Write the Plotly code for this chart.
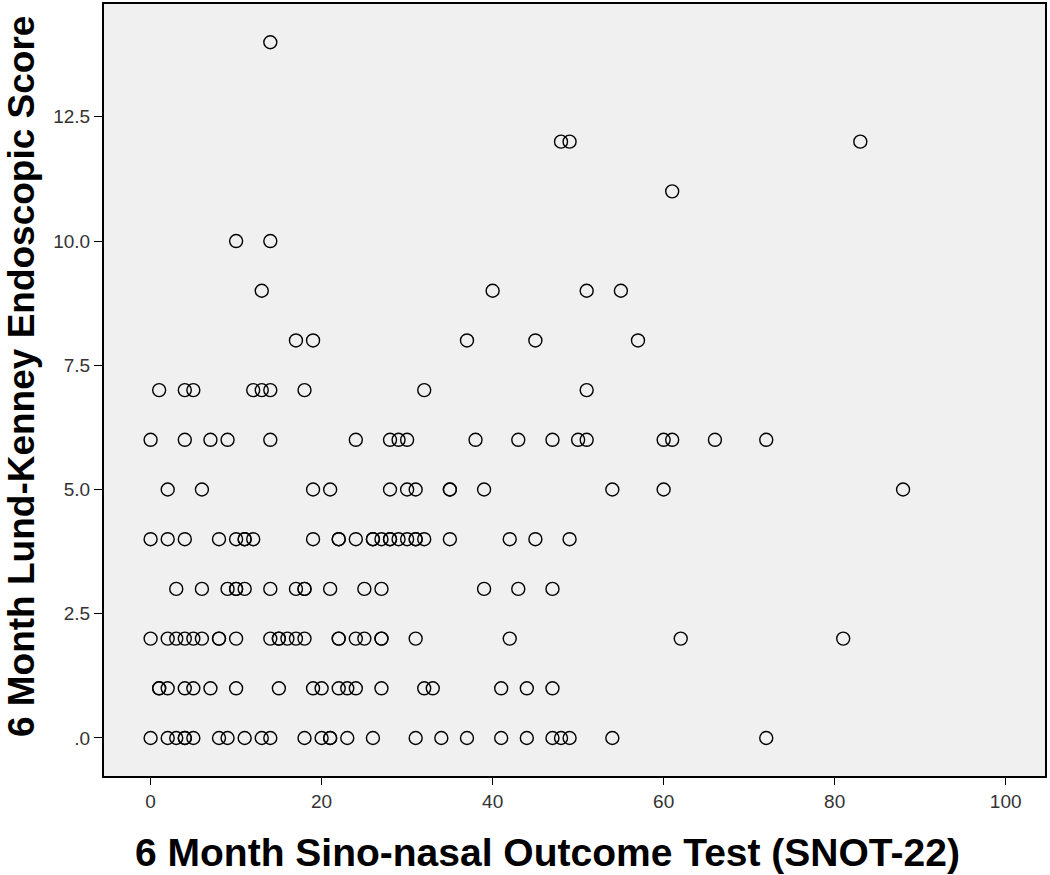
import plotly.graph_objects as go

# SNOT-22 values grouped by Lund-Kenney endoscopic score
lk_0 = [0, 2, 3, 4, 4, 5, 8, 9, 11, 13, 14, 18, 20, 21, 21, 23, 26, 31, 34, 37, 41, 44, 47, 48, 49, 54, 72]
lk_1 = [1, 1, 2, 4, 5, 7, 10, 15, 19, 20, 22, 23, 24, 27, 32, 33, 41, 44, 47]
lk_2 = [0, 2, 3, 4, 5, 6, 8, 8, 10, 14, 15, 15, 16, 17, 18, 22, 22, 24, 25, 27, 27, 31, 42, 62, 81]
lk_3 = [3, 6, 9, 10, 10, 11, 14, 17, 18, 18, 21, 25, 27, 39, 43, 47]
lk_4 = [0, 2, 4, 8, 10, 11, 11, 12, 19, 22, 22, 24, 26, 26, 27, 28, 28, 29, 30, 31, 31, 32, 35, 42, 45, 49]
lk_5 = [2, 6, 19, 21, 28, 30, 31, 35, 35, 39, 54, 60, 88]
lk_6 = [0, 4, 7, 9, 14, 24, 28, 29, 30, 38, 43, 47, 50, 51, 60, 61, 66, 72]
lk_7 = [1, 4, 5, 12, 13, 14, 18, 32, 51]
lk_8 = [17, 19, 37, 45, 57]
lk_9 = [13, 40, 51, 55]
lk_10 = [10, 14]
lk_11 = [61]
lk_12 = [48, 49, 83]
lk_14 = [14]

groups = {0: lk_0, 1: lk_1, 2: lk_2, 3: lk_3, 4: lk_4, 5: lk_5, 6: lk_6,
          7: lk_7, 8: lk_8, 9: lk_9, 10: lk_10, 11: lk_11, 12: lk_12, 14: lk_14}

x_vals, y_vals = [], []
for score, snots in groups.items():
    for s in snots:
        x_vals.append(s)
        y_vals.append(score)

x_ticks = [0, 20, 40, 60, 80, 100]
y_ticks = [0, 2.5, 5.0, 7.5, 10.0, 12.5]
y_tick_text = [".0", "2.5", "5.0", "7.5", "10.0", "12.5"]

x_title = "6 Month Sino-nasal Outcome Test (SNOT-22)"
y_title = "6 Month Lund-Kenney Endoscopic Score"

fig = go.Figure()
fig.add_trace(go.Scatter(
    x=x_vals, y=y_vals, mode="markers",
    marker=dict(symbol="circle-open", size=13, color="black",
                line=dict(width=1.4, color="black")),
    showlegend=False, hoverinfo="x+y",
))

tick_font = dict(family="Liberation Sans, Arial, sans-serif", size=19, color="#333333")
title_font = dict(family="Liberation Sans, Arial, sans-serif", color="black")

fig.update_layout(
    width=1050, height=875,
    margin=dict(l=104, r=5, t=4, b=99),
    paper_bgcolor="white",
    plot_bgcolor="#f0f0f0",
    xaxis=dict(
        range=[-5.45, 104.6], tickvals=x_ticks, ticks="outside", ticklen=7,
        tickcolor="black", tickwidth=1, showgrid=False, zeroline=False,
        showline=True, linecolor="black", linewidth=2, mirror=True,
        tickfont=tick_font, automargin=False,
    ),
    yaxis=dict(
        range=[-0.765, 14.77], tickvals=y_ticks, ticktext=y_tick_text,
        ticks="outside", ticklen=8, tickcolor="black", tickwidth=1,
        showgrid=False, zeroline=False,
        showline=True, linecolor="black", linewidth=2, mirror=True,
        tickfont=tick_font, automargin=False,
    ),
    annotations=[
        dict(text="<b>" + x_title + "</b>", xref="paper", yref="paper",
             x=0.4718, y=-0.0997, xanchor="center", yanchor="middle",
             showarrow=False, font=dict(size=39, **title_font)),
        dict(text="<b>" + y_title + "</b>", xref="paper", yref="paper",
             x=-0.0882, y=0.518, xanchor="center", yanchor="middle",
             textangle=-90, showarrow=False, font=dict(size=37, **title_font)),
    ],
)

fig.write_html(
    "out.html",
    config={"displayModeBar": False},
    post_script="document.body.style.margin='0';document.body.style.overflow='hidden';",
)
